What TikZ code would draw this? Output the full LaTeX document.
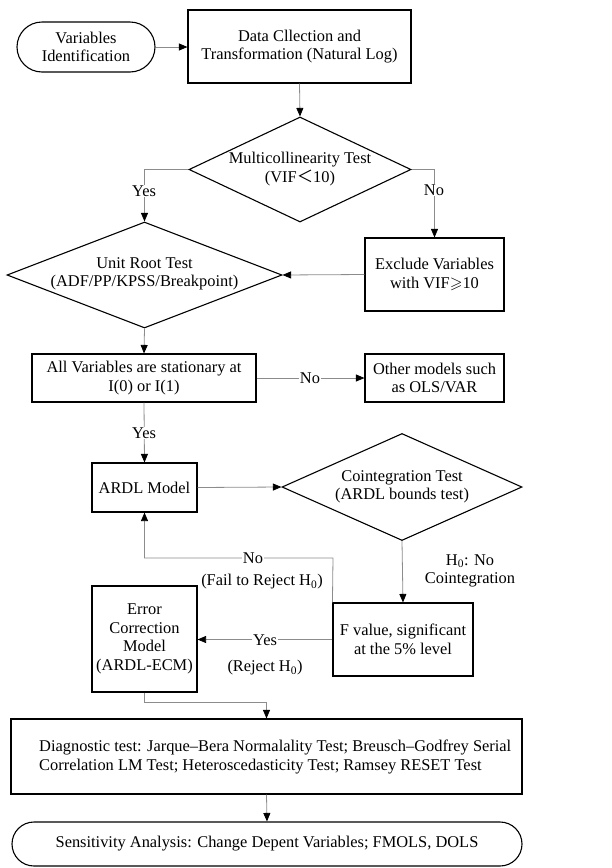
\documentclass[tikz,border=0pt]{standalone}
\usepackage{amssymb}
\usepackage{fontspec}
\setmainfont{Liberation Serif}
\newfontfamily\cjkf{Noto Sans CJK SC}
\usetikzlibrary{shapes.geometric,arrows.meta}
\newcommand\fsz{\fontsize{16.4}{18.5}\selectfont}
\begin{document}
\begin{tikzpicture}[x=1pt,y=-1pt,
  box/.style={draw, line width=1.1pt, inner sep=0pt, align=center, font=\fsz},
  dia/.style={draw, line width=1.1pt, shape=diamond, inner sep=0pt},
  txt/.style={inner sep=0pt, align=center, font=\fsz},
  lab/.style={inner sep=1pt, align=center, font=\fsz, fill=white},
  conn/.style={draw=black!45, line width=0.8pt, -{Triangle[length=8.5pt,width=7pt,color=black]}}]
\useasboundingbox (0,0) rectangle (611,868);
% nodes
\node[box, rounded corners=25pt, minimum width=138pt, minimum height=50pt] (vi) at (86,47) {Variables\\Identification};
\node[box, minimum width=223pt, minimum height=73pt] (dc) at (299.5,46.5) {Data Cllection and\\Transformation (Natural Log)};
\node[dia, minimum width=222pt, minimum height=105pt] (mc) at (300,169.5) {};
\node[txt] (mct) at (300,169) {Multicollinearity Test\\(VIF{\cjkf ＜}10)};
\node[dia, minimum width=275pt, minimum height=106pt] (ur) at (144.5,275) {};
\node[txt] (urt) at (144.5,274) {Unit Root Test\\(ADF/PP/KPSS/Breakpoint)};
\node[box, minimum width=139pt, minimum height=73pt] (ex) at (434.5,274.5) {Exclude Variables\\with VIF$\geqslant$10};
\node[box, minimum width=224pt, minimum height=48pt] (av) at (144,378) {All Variables are stationary at\\I(0) or I(1)};
\node[box, minimum width=139pt, minimum height=48pt] (om) at (434.5,378) {Other models such\\as OLS/VAR};
\node[box, minimum width=105pt, minimum height=49pt] (ardl) at (144.5,487.5) {ARDL Model};
\node[dia, minimum width=240pt, minimum height=107pt] (ct) at (402,487) {};
\node[txt] (ctt) at (402,487) {Cointegration Test\\(ARDL bounds test)};
\node[box, minimum width=140pt, minimum height=73pt] (fv) at (403,639.5) {F value, significant\\at the 5\% level};
\node[box, minimum width=105pt, minimum height=106pt] (ecm) at (144.5,639) {Error\\Correction\\Model\\(ARDL-ECM)};
\node[box, minimum width=511pt, minimum height=75pt] (diag) at (266.5,756.5) {};
\node[txt, align=left, anchor=west] (diagt) at (39,757) {Diagnostic test: Jarque{\textendash}Bera Normalality Test; Breusch{\textendash}Godfrey Serial\\Correlation LM Test; Heteroscedasticity Test; Ramsey RESET Test};
\node[box, rounded corners=22pt, minimum width=510pt, minimum height=44pt] (sa) at (267,844) {Sensitivity Analysis: Change Depent Variables; FMOLS, DOLS};
% coordinates
\coordinate (lp) at (333,558);
\coordinate (ec2) at (144.5,702);
% connectors
\draw[conn] (vi.east) -- (vi.east -| dc.west);
\draw[conn] (dc.south) -- (mc.north);
\draw[conn] (mc.west) -| (ur.north);
\draw[conn] (mc.east) -| (ex.north);
\draw[conn] (ex.west) -- (ur.east);
\draw[conn] (ur.south) -- (av.north);
\draw[conn] (av.east) -- (om.west);
\draw[conn] (av.south) -- (ardl.north);
\draw[conn] (ardl.east) -- (ct.west);
\draw[conn] (ct.south) -- (fv.north);
\draw[conn] (fv.north west) -- (lp) -| (ardl.south);
\draw[conn] (fv.west) -- (fv.west -| ecm.east);
\draw[conn] (ecm.south) -- (ec2) -| (diag.north);
\draw[conn] (diag.south) -- (sa.north);
% labels
\node[lab] (l1) at (144,191) {Yes};
\node[lab] (l2) at (434,190) {No};
\node[lab] (l3) at (310,378) {No};
\node[lab] (l4) at (144,433) {Yes};
\node[txt] (l5) at (470,571) {H\textsubscript{0}: No\\Cointegration};
\node[lab] (l6) at (253,558) {No};
\node[txt] (l7) at (262,582) {(Fail to Reject H\textsubscript{0})};
\node[lab] (l8) at (265,640) {Yes};
\node[txt] (l9) at (265,668) {(Reject H\textsubscript{0})};
\end{tikzpicture}
\end{document}
